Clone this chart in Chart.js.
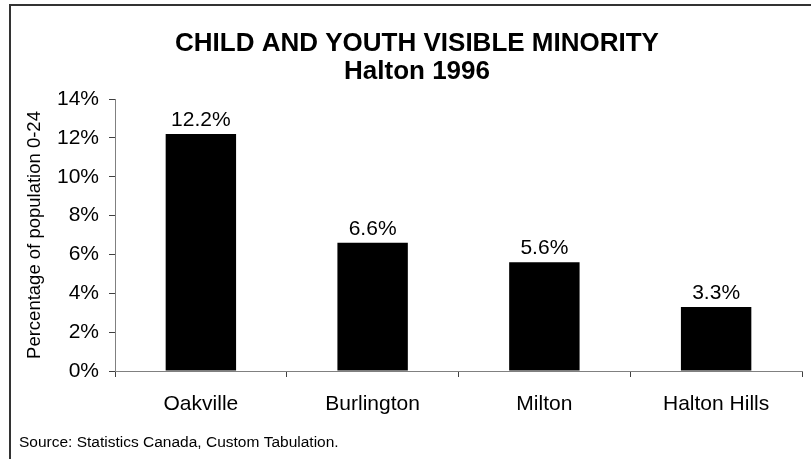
<!DOCTYPE html>
<html>
<head>
<meta charset="utf-8">
<title>Child and Youth Visible Minority - Halton 1996</title>
<script src="https://cdn.jsdelivr.net/npm/chart.js@4/dist/chart.umd.min.js"></script>
<style>
    html, body { margin: 0; padding: 0; background: #fff; }
    #wrap { width: 811px; height: 459px; }
</style>
</head>
<body>
<div id="wrap"><canvas id="minorityChart" width="811" height="459"></canvas></div>
<script>
// ===== DATA =====
var municipalities = ['Oakville', 'Burlington', 'Milton', 'Halton Hills'];
var visibleMinorityPct = [12.2, 6.6, 5.6, 3.3];
var yTicks = [0, 2, 4, 6, 8, 10, 12, 14];

var FONT = "'Liberation Sans', Arial, Helvetica, sans-serif";

// Frame lines and the source note under the chart
var framePlugin = {
    id: 'frame',
    beforeDraw: function(chart) {
        var ctx = chart.ctx;
        ctx.save();
        ctx.fillStyle = '#ffffff';
        ctx.fillRect(0, 0, chart.width, chart.height);
        ctx.fillStyle = '#333333';
        ctx.fillRect(9, 4, chart.width - 9, 2);
        ctx.fillRect(9, 4, 2, chart.height - 4);
        ctx.restore();
    },
    afterDraw: function(chart) {
        var ctx = chart.ctx;
        ctx.save();
        ctx.fillStyle = '#000';
        ctx.font = '15.5px ' + FONT;
        ctx.textAlign = 'left';
        ctx.textBaseline = 'middle';
        ctx.fillText('Source: Statistics Canada, Custom Tabulation.', 19, 443);
        ctx.restore();
    }
};

// Value labels above each bar
var valueLabels = {
    id: 'valueLabels',
    afterDatasetsDraw: function(chart) {
        var ctx = chart.ctx;
        var meta = chart.getDatasetMeta(0);
        ctx.save();
        ctx.fillStyle = '#000';
        ctx.font = '21px ' + FONT;
        ctx.textAlign = 'center';
        ctx.textBaseline = 'alphabetic';
        meta.data.forEach(function(bar, i) {
            var v = chart.data.datasets[0].data[i];
            ctx.fillText(v.toFixed(1) + '%', bar.x, bar.y - 8);
        });
        ctx.restore();
    }
};

var ctx = document.getElementById('minorityChart').getContext('2d');
new Chart(ctx, {
    type: 'bar',
    data: {
        labels: municipalities,
        datasets: [{
            data: visibleMinorityPct,
            backgroundColor: '#000000',
            borderColor: '#000000',
            borderWidth: 0,
            categoryPercentage: 1.0,
            barPercentage: 0.41
        }]
    },
    options: {
        responsive: false,
        animation: false,
        devicePixelRatio: 1,
        layout: {
            padding: { left: 32, right: 9, top: 0, bottom: 0 }
        },
        plugins: {
            legend: { display: false },
            tooltip: { enabled: false },
            title: {
                display: true,
                text: ['CHILD AND YOUTH VISIBLE MINORITY', 'Halton 1996'],
                color: '#000',
                font: { family: FONT, size: 26, weight: 'bold', lineHeight: 28 / 26 },
                padding: { top: 30, bottom: 13 }
            }
        },
        scales: {
            x: {
                grid: {
                    display: true,
                    drawOnChartArea: false,
                    drawTicks: true,
                    tickLength: 6,
                    color: '#404040'
                },
                border: { display: true, color: '#808080', width: 1 },
                ticks: {
                    color: '#000',
                    padding: 15,
                    font: { family: FONT, size: 21 }
                },
                afterFit: function(scale) { scale.height = 88; }
            },
            y: {
                min: 0,
                max: 14,
                afterBuildTicks: function(scale) {
                    scale.ticks = yTicks.map(function(v) { return { value: v }; });
                },
                grid: {
                    display: true,
                    drawOnChartArea: false,
                    drawTicks: true,
                    tickLength: 6,
                    color: '#404040'
                },
                border: { display: true, color: '#808080', width: 1 },
                ticks: {
                    color: '#000',
                    padding: 10,
                    font: { family: FONT, size: 21 },
                    callback: function(v) { return v + '%'; }
                },
                title: {
                    display: true,
                    text: 'Percentage of population 0-24',
                    color: '#000',
                    font: { family: FONT, size: 18.5 },
                    padding: { top: -8, bottom: 0 }
                },
                afterFit: function(scale) { scale.width = 83; }
            }
        }
    },
    plugins: [framePlugin, valueLabels]
});
</script>
</body>
</html>
